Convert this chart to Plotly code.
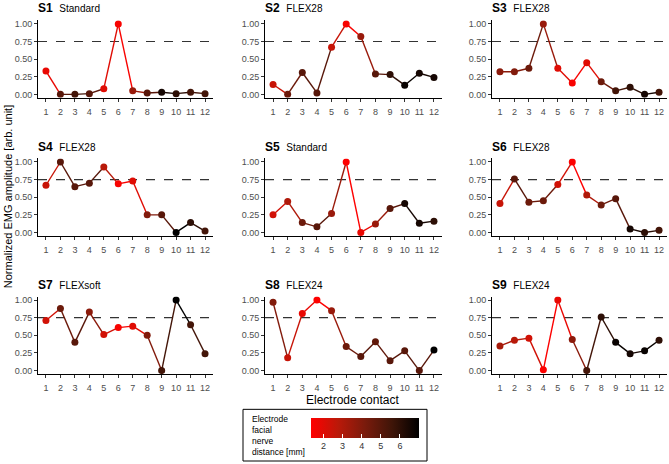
import plotly.graph_objects as go

contacts = list(range(1, 13))
subjects = ["S1", "S2", "S3", "S4", "S5", "S6", "S7", "S8", "S9"]
electrodes = ["Standard", "FLEX28", "FLEX28", "FLEX28", "Standard", "FLEX28", "FLEXsoft", "FLEX24", "FLEX24"]

amp_S1 = [0.33, 0.00, 0.00, 0.01, 0.08, 1.00, 0.05, 0.02, 0.03, 0.01, 0.03, 0.01]
amp_S2 = [0.14, 0.00, 0.31, 0.02, 0.67, 1.00, 0.82, 0.29, 0.28, 0.13, 0.30, 0.24]
amp_S3 = [0.32, 0.32, 0.37, 1.00, 0.37, 0.16, 0.45, 0.18, 0.05, 0.10, 0.00, 0.03]
amp_S4 = [0.67, 1.00, 0.65, 0.70, 0.93, 0.69, 0.73, 0.25, 0.25, 0.00, 0.14, 0.02]
amp_S5 = [0.25, 0.44, 0.14, 0.08, 0.27, 1.00, 0.00, 0.12, 0.34, 0.41, 0.13, 0.16]
amp_S6 = [0.41, 0.76, 0.43, 0.45, 0.68, 1.00, 0.53, 0.39, 0.48, 0.05, 0.00, 0.03]
amp_S7 = [0.71, 0.88, 0.40, 0.83, 0.51, 0.61, 0.63, 0.50, 0.00, 1.00, 0.65, 0.24]
amp_S8 = [0.97, 0.18, 0.81, 1.00, 0.85, 0.34, 0.20, 0.41, 0.14, 0.28, 0.00, 0.29]
amp_S9 = [0.35, 0.43, 0.46, 0.01, 1.00, 0.44, 0.00, 0.76, 0.40, 0.24, 0.28, 0.43]

dist_S1 = [1.8, 5.0, 5.5, 5.0, 2.0, 1.5, 3.5, 5.0, 6.5, 6.0, 5.5, 5.5]
dist_S2 = [2.5, 4.5, 5.0, 5.0, 2.5, 1.5, 3.5, 5.0, 6.0, 6.8, 6.5, 6.5]
dist_S3 = [3.8, 4.0, 4.5, 3.5, 2.0, 1.5, 2.0, 4.5, 5.5, 6.0, 6.5, 5.5]
dist_S4 = [2.5, 5.0, 5.0, 5.0, 2.8, 1.5, 2.0, 4.0, 5.0, 7.0, 6.0, 5.5]
dist_S5 = [2.3, 3.0, 4.5, 5.0, 3.5, 1.4, 1.8, 3.5, 5.0, 6.5, 6.5, 6.0]
dist_S6 = [2.5, 5.0, 4.5, 4.5, 2.3, 1.4, 3.0, 4.5, 5.0, 6.5, 6.0, 5.5]
dist_S7 = [2.3, 4.5, 5.0, 3.8, 2.3, 1.5, 2.0, 4.0, 5.5, 7.0, 5.5, 5.5]
dist_S8 = [4.0, 2.5, 1.8, 1.4, 3.5, 4.5, 5.0, 4.8, 5.0, 5.0, 5.0, 7.0]
dist_S9 = [3.2, 2.8, 2.3, 1.4, 1.8, 3.8, 5.5, 6.0, 6.8, 6.5, 6.8, 6.0]

amps = [amp_S1, amp_S2, amp_S3, amp_S4, amp_S5, amp_S6, amp_S7, amp_S8, amp_S9]
dists = [dist_S1, dist_S2, dist_S3, dist_S4, dist_S5, dist_S6, dist_S7, dist_S8, dist_S9]

y_ticks = [0, 0.25, 0.5, 0.75, 1.0]
cb_ticks = [2, 3, 4, 5, 6]

CMIN, CMAX = 1.35, 7.0
# red -> black gradient (Lab-like interpolation stops)
stops = [(0.0, (255, 0, 0)), (0.25, (186, 25, 9)), (0.5, (122, 27, 12)), (0.75, (63, 21, 8)), (1.0, (0, 0, 0))]
colorscale = [[p, "rgb(%d,%d,%d)" % c] for p, c in stops]

def color_of(d):
    t = min(max((d - CMIN) / (CMAX - CMIN), 0), 1)
    for (p0, c0), (p1, c1) in zip(stops[:-1], stops[1:]):
        if t <= p1:
            f = (t - p0) / (p1 - p0)
            return "rgb(%d,%d,%d)" % tuple(round(a + (b - a) * f) for a, b in zip(c0, c1))
    return "rgb(0,0,0)"

W, H = 669, 464
col_px = [(38, 213), (265, 442), (492, 667)]
row_px = [(19.5, 97.5), (158.5, 236.5), (297.5, 375.5)]

fig = go.Figure()
layout = dict(
    width=W, height=H, margin=dict(l=0, r=0, t=0, b=0),
    paper_bgcolor="white", plot_bgcolor="white", showlegend=False,
    font=dict(family="Liberation Sans, Arial, sans-serif", color="#000"),
)
shapes = []
annotations = []

for i in range(9):
    r, c = divmod(i, 3)
    ax = "" if i == 0 else str(i + 1)
    xa, ya = "x" + ax, "y" + ax
    x0, x1 = col_px[c]
    y0, y1 = row_px[r]
    layout["xaxis" + ax] = dict(
        domain=[x0 / W, x1 / W], anchor=ya, range=[0.45, 12.55],
        tickvals=contacts, ticktext=[str(v) for v in contacts],
        showgrid=False, zeroline=False, showline=True, linecolor="black", linewidth=1,
        ticks="outside", ticklen=3, tickcolor="#333", tickwidth=1, ticklabelstandoff=2,
        tickfont=dict(size=9, color="#4D4D4D"),
    )
    layout["yaxis" + ax] = dict(
        domain=[1 - y1 / H, 1 - y0 / H], anchor=xa, range=[-0.05, 1.05],
        tickvals=y_ticks, tickformat=".2f",
        showgrid=False, zeroline=False, showline=True, linecolor="black", linewidth=1,
        ticks="outside", ticklen=3, tickcolor="#333", tickwidth=1,
        tickfont=dict(size=9, color="#4D4D4D"),
    )
    shapes.append(dict(type="line", xref=xa + " domain", yref=ya, x0=0, x1=1, y0=0.75, y1=0.75,
                       line=dict(color="#333", width=1.2, dash="dash"), layer="below"))
    a, d = amps[i], dists[i]
    for k in range(len(contacts) - 1):
        fig.add_trace(go.Scatter(x=contacts[k:k + 2], y=a[k:k + 2], mode="lines",
                                 line=dict(color=color_of(d[k]), width=1.4),
                                 xaxis=xa, yaxis=ya, hoverinfo="skip"))
    marker = dict(size=7, color=d, colorscale=colorscale, cmin=CMIN, cmax=CMAX,
                  showscale=(i == 0))
    if i == 0:
        marker["colorbar"] = dict(
            orientation="h", x=311 / W, xanchor="left", y=1 - 420 / H, yanchor="top",
            len=108, lenmode="pixels", thickness=20, thicknessmode="pixels",
            xpad=0, ypad=0, outlinewidth=0, tickvals=cb_ticks,
            ticks="inside", ticklen=4, tickcolor="white", tickwidth=1,
            tickfont=dict(size=9, color="#333"),
        )
    fig.add_trace(go.Scatter(x=contacts, y=a, mode="markers", marker=marker,
                             xaxis=xa, yaxis=ya))
    annotations.append(dict(
        xref="paper", yref="paper", x=(x0 - 2) / W, y=1 - (y0 - 12) / H,
        xanchor="left", yanchor="middle", showarrow=False,
        text="<b>%s</b>  <span style='font-size:10px'>%s</span>" % (subjects[i], electrodes[i]),
        font=dict(size=12, color="black"),
    ))

annotations.append(dict(
    xref="paper", yref="paper", x=8 / W, y=1 - 197.5 / H, textangle=-90,
    xanchor="center", yanchor="middle", showarrow=False,
    text="Normalized EMG amplitude [arb. unit]", font=dict(size=11, color="black")))
annotations.append(dict(
    xref="paper", yref="paper", x=352.5 / W, y=1 - 393 / H,
    xanchor="center", yanchor="top", showarrow=False,
    text="Electrode contact", font=dict(size=12, color="black")))
annotations.append(dict(
    xref="paper", yref="paper", x=250 / W, y=1 - 437 / H,
    xanchor="left", yanchor="middle", showarrow=False, align="left",
    text="Electrode<br>facial<br>nerve<br>distance [mm]", font=dict(size=8.5, color="black")))
shapes.append(dict(type="rect", xref="paper", yref="paper",
                   x0=243 / W, x1=427 / W, y0=1 - 463 / H, y1=1 - 411 / H,
                   line=dict(color="black", width=1), fillcolor="rgba(0,0,0,0)"))

layout["shapes"] = shapes
layout["annotations"] = annotations
fig.update_layout(**layout)
fig.write_html("out.html", config={"displayModeBar": False},
               post_script="document.body.style.margin='0';document.body.style.overflow='hidden';")
